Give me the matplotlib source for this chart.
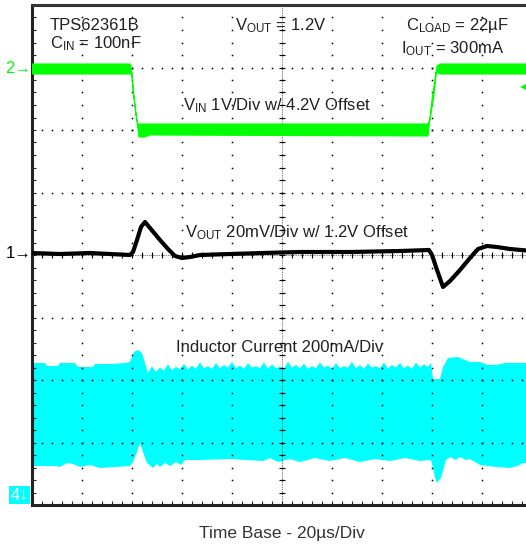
import numpy as np
import matplotlib
matplotlib.use("Agg")
import matplotlib.pyplot as plt

plt.rcParams['font.family'] = ['Liberation Sans', 'DejaVu Sans']
plt.rcParams['mathtext.fontset'] = 'custom'
plt.rcParams['mathtext.rm'] = 'Liberation Sans'
plt.rcParams['mathtext.it'] = 'Liberation Sans'
plt.rcParams['mathtext.bf'] = 'Liberation Sans'

# scope screen: 10 div wide (20us/div), 8 div tall; traces in screen divisions

# channel 2: VIN band (upper / lower edge of the noisy trace)
vin_t_up = [0, 1.96, 1.98, 2.02, 2.08, 2.12, 7.92, 7.96, 8.04, 8.10, 8.16, 10]
vin_v_up = [7.056, 7.056, 7.024, 6.64, 6.24, 6.096, 6.096, 6.16, 6.56, 7.024, 7.056, 7.056]
vin_t_lo = [0, 1.96, 2.00, 2.04, 2.10, 2.14, 2.26, 2.36, 7.92, 7.94, 8.00, 8.08, 8.16, 10]
vin_v_lo = [6.896, 6.896, 6.928, 6.544, 6.128, 5.888, 5.888, 5.92, 5.904, 6.064, 6.48, 6.928, 6.896, 6.896]

# channel 1: VOUT
vout_t = [0, 0.56, 1.16, 1.96, 2.02, 2.10, 2.18, 2.26, 2.36, 2.56, 2.72, 2.86, 3.00, 3.16,
          3.36, 3.96, 4.62, 5.36, 6.36, 7.36, 7.94, 8.00, 8.10, 8.22, 8.36, 8.56, 8.76,
          8.92, 9.10, 9.30, 9.56, 10]
vout_v = [4.032, 4.016, 4.032, 4.0, 4.048, 4.24, 4.448, 4.528, 4.432, 4.24, 4.096, 3.984,
          3.952, 3.968, 4.0, 4.016, 4.032, 4.048, 4.048, 4.064, 4.08, 4.0, 3.76, 3.488,
          3.584, 3.76, 3.952, 4.096, 4.144, 4.128, 4.096, 4.064]

# channel 4: inductor current envelope
il_t_up = [0, 0.26, 0.30, 0.52, 0.56, 0.86, 0.92, 1.22, 1.26, 1.56, 1.86, 1.96, 2.04, 2.12,
           2.20, 2.26, 2.32,
           2.40, 2.48, 2.56, 2.64, 2.72, 2.80, 2.88, 2.96, 3.04, 3.12, 3.20, 3.28, 3.36,
           3.44, 3.52, 3.60, 3.68, 3.76, 3.84, 3.92, 4.00, 4.08, 4.16, 4.24, 4.32, 4.40,
           4.48, 4.56, 4.64, 4.72, 4.80, 4.88, 4.96, 5.04, 5.12, 5.20, 5.28, 5.36, 5.44,
           5.52, 5.60, 5.68, 5.76, 5.84, 5.92, 6.00, 6.08, 6.16, 6.24, 6.32, 6.40, 6.48,
           6.56, 6.64, 6.72, 6.80, 6.88, 6.96, 7.04, 7.12, 7.20, 7.28, 7.36, 7.44, 7.52,
           7.60, 7.68, 7.76, 7.84, 7.92,
           7.98, 8.02, 8.16, 8.22, 8.32, 8.52, 8.66, 8.76, 8.96, 9.12, 9.28, 9.46, 9.76, 10]
il_v_up = [2.272, 2.272, 2.224, 2.224, 2.272, 2.272, 2.208, 2.208, 2.256, 2.256, 2.272,
           2.288, 2.448, 2.48, 2.432, 2.272, 2.112,
           2.22, 2.13, 2.20, 2.15, 2.25, 2.16, 2.21, 2.17, 2.26, 2.17, 2.23, 2.18, 2.28,
           2.19, 2.22, 2.18, 2.27, 2.19, 2.24, 2.20, 2.29, 2.19, 2.23, 2.18, 2.27, 2.20,
           2.22, 2.19, 2.28, 2.18, 2.25, 2.19, 2.21, 2.18, 2.29, 2.20, 2.24, 2.19, 2.26,
           2.18, 2.22, 2.19, 2.28, 2.20, 2.23, 2.18, 2.27, 2.19, 2.22, 2.20, 2.29, 2.19,
           2.24, 2.18, 2.26, 2.20, 2.22, 2.19, 2.28, 2.18, 2.24, 2.20, 2.27, 2.19, 2.23,
           2.18, 2.28, 2.20, 2.25, 2.21,
           2.272, 2.016, 2.016, 2.208, 2.352, 2.368, 2.32, 2.288, 2.288, 2.24, 2.24,
           2.272, 2.272, 2.272]
il_t_lo = [0, 0.46, 0.56, 0.70, 0.82, 0.96, 1.16, 1.36, 1.66, 1.96, 2.02, 2.10, 2.16, 2.22,
           2.30, 2.42, 2.50, 2.56, 2.66, 2.76, 2.88, 2.98, 3.06, 3.36, 3.96, 4.62, 4.76,
           4.92, 5.16, 5.36, 5.66, 5.96, 6.26, 6.56, 6.86, 7.16, 7.46, 7.76, 7.98, 8.06,
           8.10, 8.18, 8.28, 8.36, 8.48, 8.56, 8.68, 8.76, 8.96, 9.28, 9.56, 9.72, 9.82, 10]
il_v_lo = [0.624, 0.624, 0.608, 0.672, 0.656, 0.608, 0.64, 0.592, 0.608, 0.624, 0.688,
           0.848, 0.992, 0.848, 0.672, 0.592, 0.656, 0.608, 0.672, 0.624, 0.688, 0.64,
           0.72, 0.72, 0.736, 0.704, 0.752, 0.688, 0.736, 0.688, 0.752, 0.704, 0.752,
           0.688, 0.736, 0.704, 0.752, 0.704, 0.72, 0.448, 0.352, 0.432, 0.72, 0.768,
           0.72, 0.768, 0.72, 0.736, 0.64, 0.608, 0.592, 0.624, 0.672, 0.672]

GREEN = '#00ff00'
CYAN = '#00ffff'
TXT = '#231f20'

fig = plt.figure(figsize=(5.26, 5.45), dpi=100)
ax = fig.add_axes([32 / 526, 40 / 545, 500 / 526, 500 / 545])
ax.set_xlim(0, 10)
ax.set_ylim(0, 8)

# traces
ax.fill(np.r_[il_t_up, il_t_lo[::-1]], np.r_[il_v_up, il_v_lo[::-1]],
        color=CYAN, lw=0, zorder=1)
ax.fill(np.r_[vin_t_up, vin_t_lo[::-1]], np.r_[vin_v_up, vin_v_lo[::-1]],
        color=GREEN, lw=0.8, ec=GREEN, zorder=3)
ax.plot(vout_t, vout_v, color='black', lw=3, solid_joinstyle='round', zorder=3)

# graticule dots
minor_x = np.arange(0, 10.01, 0.2)
minor_y = np.arange(0, 8.01, 0.2)
for k in range(1, 10):
    ax.plot(np.full(len(minor_y), k), minor_y, ls='none', marker='s',
            ms=1.1, mew=0, color='black', zorder=2)
for k in range(1, 8):
    ax.plot(minor_x, np.full(len(minor_x), k), ls='none', marker='s',
            ms=1.1, mew=0, color='black', zorder=2)
# center cross with small ticks
ax.plot([5, 5], [0, 8], color='black', lw=0.5, ls=(0, (1, 1.5)), zorder=2)
ax.plot([0, 10], [4, 4], color='black', lw=0.5, ls=(0, (1, 1.5)), zorder=2)
ax.plot(np.full(len(minor_y), 5), minor_y, ls='none', marker='_', ms=4,
        mew=0.8, color='black', zorder=2)
ax.plot(minor_x, np.full(len(minor_x), 4), ls='none', marker='|', ms=4,
        mew=0.8, color='black', zorder=2)

ax.set_xticks(minor_x)
ax.set_yticks(minor_y)
ax.tick_params(direction='in', length=3, width=0.8, labelbottom=False,
               labelleft=False, colors='#222222')
for s in ['left', 'bottom']:
    ax.spines[s].set_linewidth(2.2)
    ax.spines[s].set_color('#222222')
ax.spines['top'].set_linewidth(2.2)
ax.spines['top'].set_color('#333333')
ax.spines['right'].set_visible(False)

# labels inside the screen
fs = 12
ax.text(0.36, 7.6, 'TPS62361B', fontsize=fs, color=TXT)
ax.text(0.36, 7.312, r'C$_{\mathrm{IN}}$ = 100nF', fontsize=fs, color=TXT)
ax.text(4.06, 7.6, r'V$_{\mathrm{OUT}}$ = 1.2V', fontsize=fs, color=TXT)
ax.text(7.48, 7.6, r'C$_{\mathrm{LOAD}}$ = 22µF', fontsize=fs, color=TXT)
ax.text(7.38, 7.232, r'I$_{\mathrm{OUT}}$ = 300mA', fontsize=fs, color=TXT)
ax.text(3.02, 6.32, r'V$_{\mathrm{IN}}$ 1V/Div w/ 4.2V Offset', fontsize=fs, color=TXT)
ax.text(3.06, 4.288, r'V$_{\mathrm{OUT}}$ 20mV/Div w/ 1.2V Offset', fontsize=fs, color=TXT)
ax.text(2.88, 2.448, 'Inductor Current 200mA/Div', fontsize=fs, color=TXT)

# channel markers
ax.text(-0.01, 6.99, '2→', fontsize=12, color=GREEN, ha='right', va='center',
        clip_on=False)
ax.text(-0.01, 4.03, '1→', fontsize=12, color='black', ha='right', va='center',
        clip_on=False)
ax.text(-0.07, 0.16, '4↓', fontsize=12, color='white', ha='right', va='center',
        clip_on=False, bbox=dict(boxstyle='square,pad=0.1', fc=CYAN, ec='none'))
ax.plot([9.84], [6.69], marker='<', ms=6, color=GREEN, mew=0, clip_on=False, zorder=4)

fig.text(282 / 526, 7 / 545, 'Time Base - 20µs/Div', fontsize=12.5,
         color='#333333', ha='center', va='baseline')

fig.savefig('out.png', dpi=100)
